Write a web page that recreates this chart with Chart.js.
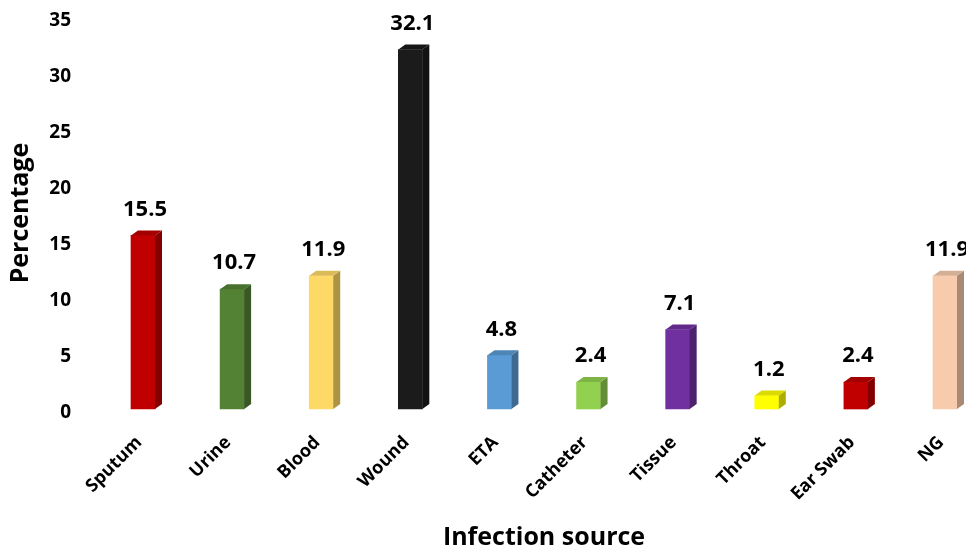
<!DOCTYPE html>
<html>
<head>
<meta charset="utf-8">
<script src="https://cdn.jsdelivr.net/npm/chart.js@4/dist/chart.umd.min.js"></script>
<style>
  html, body { margin: 0; padding: 0; background: #ffffff; overflow: hidden; }
  #wrap { width: 966px; height: 550px; }
</style>
</head>
<body>
<div id="wrap"><canvas id="chart" width="966" height="550"></canvas></div>
<script>
// Infection sources and the share of isolates from each (%)
const sources = ['Sputum', 'Urine', 'Blood', 'Wound', 'ETA', 'Catheter', 'Tissue', 'Throat', 'Ear Swab', 'NG'];
const percentages = [15.5, 10.7, 11.9, 32.1, 4.8, 2.4, 7.1, 1.2, 2.4, 11.9];
const barColors = ['#C00000', '#548235', '#FFD966', '#1B1B1B', '#5B9BD5', '#92D050', '#7030A0', '#FFFF00', '#C00000', '#F8CBAD'];
const yTicks = [0, 5, 10, 15, 20, 25, 30, 35];

const FONT = "'Open Sans', 'Liberation Sans', sans-serif";

// darken a hex colour by a factor (0..1)
function shade(hex, f) {
  const n = parseInt(hex.slice(1), 16);
  const r = Math.round(((n >> 16) & 255) * f);
  const g = Math.round(((n >> 8) & 255) * f);
  const b = Math.round((n & 255) * f);
  return `rgb(${r},${g},${b})`;
}

// gives each column a top and a side face, then writes its value above it
const columnDepth = {
  id: 'columnDepth',
  afterDatasetsDraw(chart) {
    const ctx = chart.ctx;
    const meta = chart.getDatasetMeta(0);
    const dx = 7, dy = 5;
    ctx.save();
    meta.data.forEach((bar, i) => {
      const { x, y, base, width } = bar.getProps(['x', 'y', 'base', 'width'], true);
      const l = x - width / 2, r = x + width / 2;
      const col = barColors[i];
      // side face
      ctx.fillStyle = shade(col, 0.68);
      ctx.beginPath();
      ctx.moveTo(r, y);
      ctx.lineTo(r + dx, y - dy);
      ctx.lineTo(r + dx, base - dy);
      ctx.lineTo(r, base);
      ctx.closePath();
      ctx.fill();
      // top face
      ctx.fillStyle = shade(col, 0.86);
      ctx.beginPath();
      ctx.moveTo(l, y);
      ctx.lineTo(l + dx, y - dy);
      ctx.lineTo(r + dx, y - dy);
      ctx.lineTo(r, y);
      ctx.closePath();
      ctx.fill();
      // value label
      ctx.fillStyle = '#000000';
      ctx.font = `bold 22px ${FONT}`;
      ctx.textAlign = 'center';
      ctx.textBaseline = 'middle';
      ctx.fillText(percentages[i].toFixed(1), x + 2, y - 26);
    });
    ctx.restore();
  }
};

new Chart(document.getElementById('chart'), {
  type: 'bar',
  data: {
    labels: sources,
    datasets: [{
      data: percentages,
      backgroundColor: barColors,
      borderWidth: 0,
      barThickness: 24,
      clip: false
    }]
  },
  options: {
    responsive: false,
    animation: false,
    events: [],
    layout: { padding: { top: 17, right: 21, left: 0, bottom: 0 } },
    plugins: {
      legend: { display: false },
      tooltip: { enabled: false }
    },
    scales: {
      x: {
        offset: false,
        grid: { display: false, drawTicks: false },
        border: { display: false },
        ticks: {
          autoSkip: false,
          minRotation: 45,
          maxRotation: 45,
          padding: 23,
          labelOffset: -4,
          color: '#000000',
          font: { family: FONT, size: 18, weight: 'bold' }
        },
        title: {
          display: true,
          text: 'Infection source',
          color: '#000000',
          padding: { top: 0, bottom: 0 },
          font: { family: FONT, size: 25, weight: 'bold', lineHeight: 1.0 }
        },
        afterFit(scale) {
          scale.height = 141;
          scale.paddingLeft = 0;
          scale.paddingRight = 0;
        }
      },
      y: {
        min: 0,
        max: 35,
        afterBuildTicks(scale) { scale.ticks = yTicks.map(v => ({ value: v })); },
        grid: { display: false, drawTicks: false },
        border: { display: false },
        ticks: {
          padding: 72,
          labelOffset: 4,
          color: '#000000',
          font: { family: FONT, size: 19, weight: 'bold' }
        },
        title: {
          display: true,
          text: 'Percentage',
          color: '#000000',
          padding: { top: 6, bottom: 0 },
          font: { family: FONT, size: 25, weight: 'bold', lineHeight: 1.2 }
        },
        afterFit(scale) {
          scale.width = 143;
          scale.paddingTop = 0;
          scale.paddingBottom = 0;
        }
      }
    }
  },
  plugins: [columnDepth]
});
</script>
</body>
</html>
